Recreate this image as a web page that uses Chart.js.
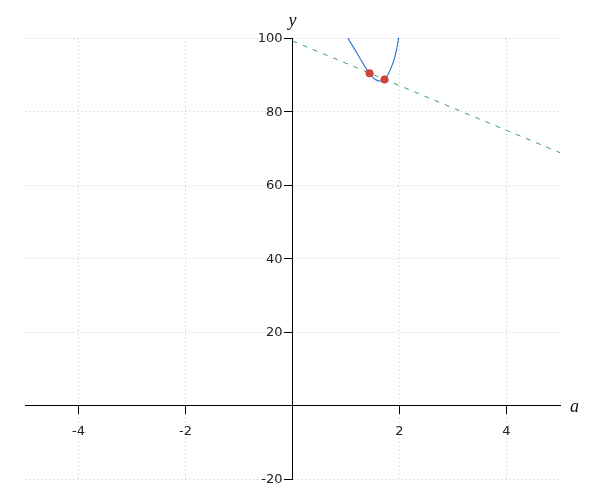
<!DOCTYPE html>
<html>
<head>
<meta charset="utf-8">
<script src="https://cdn.jsdelivr.net/npm/chart.js@4.4.1/dist/chart.umd.min.js"></script>
<style>
  html, body { margin: 0; padding: 0; background: #fff; }
  #wrap { width: 600px; height: 500px; }
</style>
</head>
<body>
<div id="wrap"><canvas id="plot"></canvas></div>
<script>
// axis ticks
const xTicks = [-4, -2, 0, 2, 4];
const yTicks = [-20, 0, 20, 40, 60, 80, 100];

// blue curve
const curveA = [1.00, 1.10, 1.20, 1.30, 1.40, 1.48, 1.56, 1.64, 1.72, 1.80, 1.88, 1.94, 2.00];
const curveY = [100.8, 98.4, 96.0, 93.5, 91.2, 89.6, 88.6, 88.3, 88.7, 90.5, 93.3, 96.5, 101.5];

// green dashed line
const lineA = [0, 5];
const lineY = [99.2, 68.8];

// red intersection points
const ptA = [1.44, 1.72];
const ptY = [90.4, 88.7];

const toXY = (xs, ys) => xs.map((x, i) => ({ x: x, y: ys[i] }));

const gridGray = '#c8c8c8';
const tickFont = '13px "DejaVu Sans", sans-serif';

// y tick labels sit left of the centred axis; Chart.js ignores padding there
const axisExtras = {
    id: 'axisExtras',
    afterDraw(chart) {
        const { ctx, chartArea, scales } = chart;
        const x0 = scales.x.getPixelForValue(0);
        const y0 = scales.y.getPixelForValue(0);
        ctx.save();
        ctx.fillStyle = '#222';
        ctx.font = tickFont;
        ctx.textAlign = 'right';
        ctx.textBaseline = 'middle';
        scales.y.ticks.forEach(t => {
            if (t.value === 0) return;
            ctx.fillText(String(t.value), x0 - 10, scales.y.getPixelForValue(t.value) + 1);
        });
        ctx.fillStyle = '#111';
        ctx.font = 'italic 18px "Liberation Serif", serif';
        ctx.textAlign = 'center';
        ctx.fillText('y', x0, chartArea.top - 17);
        ctx.textAlign = 'left';
        ctx.fillText('a', chartArea.right + 10, y0 + 2);
        ctx.restore();
    }
};

const gridOpts = {
    color: c => c.tick && c.tick.value === 0 ? 'transparent' : gridGray,
    tickColor: c => c.tick && c.tick.value === 0 ? 'transparent' : '#000',
    tickBorderDash: [],
    tickLength: 8,
    tickWidth: 1,
    drawTicks: true
};

new Chart(document.getElementById('plot'), {
    type: 'scatter',
    data: {
        datasets: [
            {
                label: 'curve',
                data: toXY(curveA, curveY),
                showLine: true,
                borderColor: '#3a7dce',
                borderWidth: 1.2,
                pointRadius: 0,
                tension: 0.35,
                order: 2
            },
            {
                label: 'line',
                data: toXY(lineA, lineY),
                showLine: true,
                borderColor: '#3f9f5f',
                borderWidth: 1,
                borderDash: [5, 6],
                pointRadius: 0,
                order: 3
            },
            {
                label: 'points',
                data: toXY(ptA, ptY),
                showLine: false,
                pointRadius: 3.8,
                pointBackgroundColor: '#d0433b',
                pointBorderColor: '#b8352e',
                pointBorderWidth: 0.5,
                order: 1
            }
        ]
    },
    options: {
        responsive: true,
        maintainAspectRatio: false,
        animation: false,
        layout: { padding: { left: 25, right: 40, top: 38, bottom: 21 } },
        scales: {
            x: {
                type: 'linear',
                min: -5,
                max: 5,
                position: { y: 0 },
                afterBuildTicks: s => { s.ticks = xTicks.map(v => ({ value: v })); },
                border: { display: true, color: '#000', width: 1, dash: [1, 3] },
                grid: gridOpts,
                ticks: {
                    color: '#222',
                    font: { family: '"DejaVu Sans", sans-serif', size: 13 },
                    padding: 10,
                    maxRotation: 0,
                    callback: v => v === 0 ? '' : String(v)
                }
            },
            y: {
                type: 'linear',
                min: -20,
                max: 100,
                position: { x: 0 },
                afterBuildTicks: s => { s.ticks = yTicks.map(v => ({ value: v })); },
                border: { display: true, color: '#000', width: 1, dash: [1, 3] },
                grid: gridOpts,
                ticks: { display: false }
            }
        },
        plugins: {
            legend: { display: false },
            tooltip: { enabled: false }
        }
    },
    plugins: [axisExtras]
});
</script>
</body>
</html>
